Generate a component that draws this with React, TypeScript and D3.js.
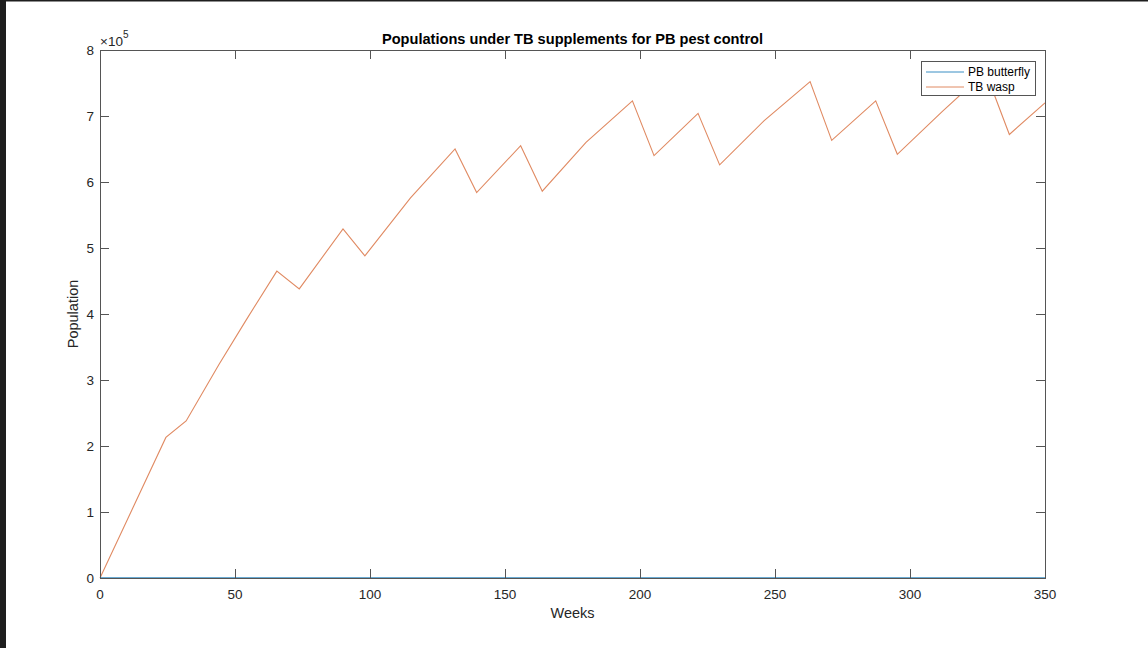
import React from "react";
import * as d3 from "d3";

const weeks = [0, 24.4, 31.9, 44, 54, 65.5, 73.8, 90, 98.1, 115, 131.5, 139.5, 155.8, 163.8, 180, 197.2, 205.2, 221.5, 229.5, 246, 263, 271, 287.3, 295.3, 312, 328, 336.8, 350];
const wasp = [0, 2.13, 2.38, 3.23, 3.9, 4.65, 4.38, 5.29, 4.88, 5.76, 6.5, 5.84, 6.55, 5.86, 6.6, 7.23, 6.4, 7.04, 6.26, 6.93, 7.52, 6.63, 7.23, 6.42, 7.07, 7.67, 6.72, 7.2].map(v => v * 1e5);
const butterflyWeeks = [0, 350];
const butterfly = [0, 0];
const xTicks = [0, 50, 100, 150, 200, 250, 300, 350];
const yTicks = [0, 1, 2, 3, 4, 5, 6, 7, 8];
const seriesNames = ["PB butterfly", "TB wasp"];
const colors = ["#3a8fc4", "#e08a62"];

const W = 1148, H = 648;
const L = 100, R = 1045, T = 50, B = 578;
const FONT = "'Liberation Sans', Arial, Helvetica, sans-serif";

export default function App() {
  const x = d3.scaleLinear().domain([0, 350]).range([L, R]);
  const y = d3.scaleLinear().domain([0, 8e5]).range([B, T]);
  const line = d3.line<[number, number]>().x(d => x(d[0])).y(d => y(d[1]));
  const waspPts: [number, number][] = weeks.map((w, i) => [w, wasp[i]]);
  const bfPts: [number, number][] = butterflyWeeks.map((w, i) => [w, butterfly[i]]);
  const axisColor = "#555";
  const textColor = "#262626";
  const tl = 9;
  return (
    <div style={{ position: "fixed", left: 0, top: 0, width: W, height: H, background: "#fff" }}>
      <svg width={W} height={H} style={{ display: "block" }} fontFamily={FONT}>
        <rect x={0} y={0} width={W} height={H} fill="#fff" />
        <rect x={0} y={0} width={6} height={H} fill="#1e1e1e" />
        <rect x={0} y={0} width={W} height={1.5} fill="#1e1e1e" />
        <path d={line(waspPts) || ""} fill="none" stroke={colors[1]} strokeWidth={1.1} />
        <path d={line(bfPts) || ""} fill="none" stroke={colors[0]} strokeWidth={1.3} />
        <rect x={L} y={T} width={R - L} height={B - T} fill="none" stroke={axisColor} strokeWidth={1} shapeRendering="crispEdges" />
        {xTicks.map(t => (
          <g key={"x" + t}>
            <line x1={x(t)} x2={x(t)} y1={B} y2={B - tl} stroke={axisColor} shapeRendering="crispEdges" />
            <line x1={x(t)} x2={x(t)} y1={T} y2={T + tl} stroke={axisColor} shapeRendering="crispEdges" />
            <text x={x(t)} y={599} textAnchor="middle" fontSize={13.5} fill={textColor}>{t}</text>
          </g>
        ))}
        {yTicks.map(t => (
          <g key={"y" + t}>
            <line x1={L} x2={L + tl} y1={y(t * 1e5)} y2={y(t * 1e5)} stroke={axisColor} shapeRendering="crispEdges" />
            <line x1={R} x2={R - tl} y1={y(t * 1e5)} y2={y(t * 1e5)} stroke={axisColor} shapeRendering="crispEdges" />
            <text x={94} y={y(t * 1e5)} dy="0.36em" textAnchor="end" fontSize={13.5} fill={textColor}>{t}</text>
          </g>
        ))}
        <text x={100} y={46} fontSize={13.5} fill={textColor}>
          ×10<tspan fontSize={10} dy={-8}>5</tspan>
        </text>
        <text x={(L + R) / 2} y={44} textAnchor="middle" fontSize={14.6} fontWeight="bold" fill="#000">
          Populations under TB supplements for PB pest control
        </text>
        <text x={(L + R) / 2} y={618} textAnchor="middle" fontSize={14.5} fill={textColor}>Weeks</text>
        <text transform={`translate(78,${(T + B) / 2}) rotate(-90)`} textAnchor="middle" fontSize={14.5} fill={textColor}>Population</text>
        <rect x={921} y={61} width={114} height={34} fill="#fff" stroke={axisColor} strokeWidth={1} shapeRendering="crispEdges" />
        {seriesNames.map((n, i) => (
          <g key={n}>
            <line x1={926} x2={964} y1={72 + i * 15} y2={72 + i * 15} stroke={colors[i]} strokeWidth={1} />
            <text x={968} y={76 + i * 15} fontSize={12} fill="#000">{n}</text>
          </g>
        ))}
      </svg>
    </div>
  );
}
